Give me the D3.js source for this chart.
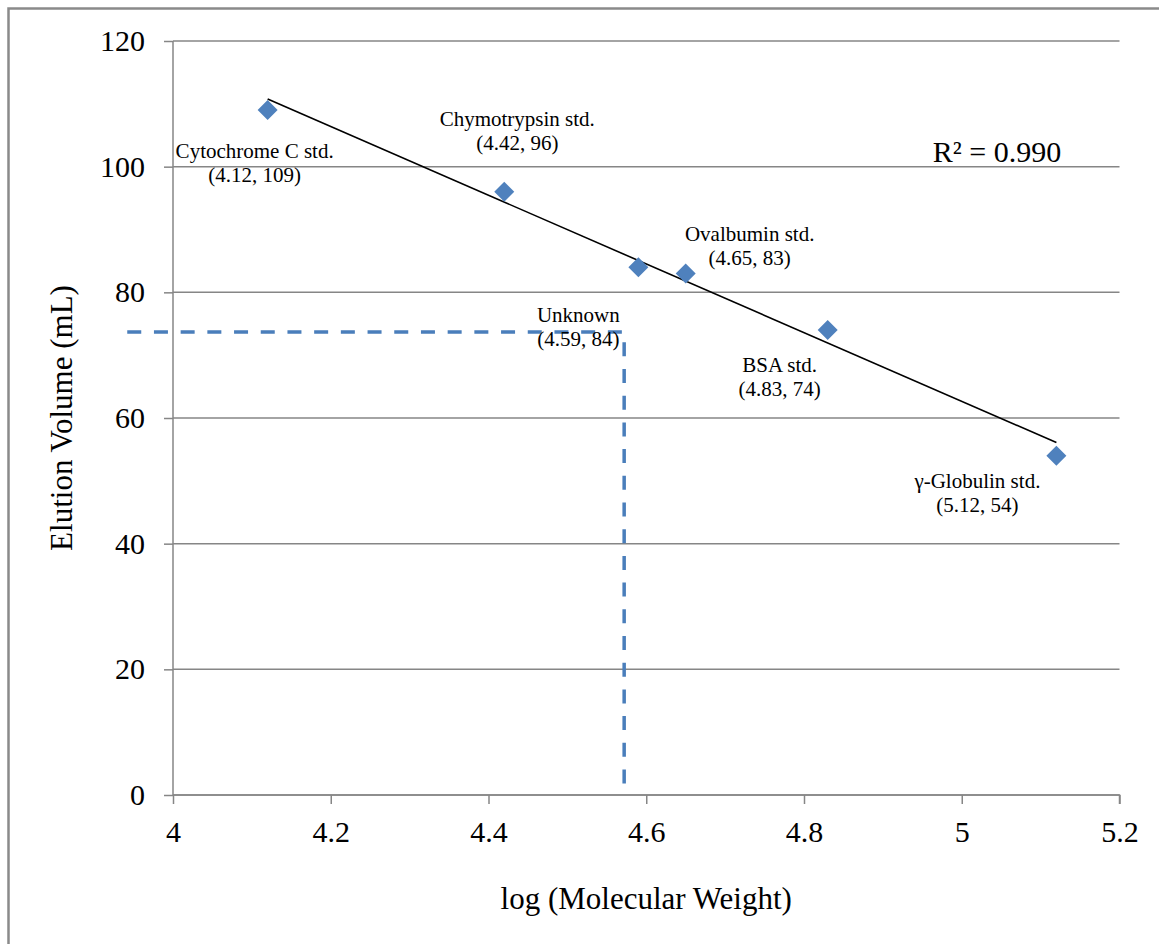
<!DOCTYPE html>
<html>
<head>
<meta charset="utf-8">
<script src="https://cdn.jsdelivr.net/npm/d3@7"></script>
<style>
  body { margin: 0; background: #fff; }
  svg text { font-family: "Liberation Serif", "Times New Roman", serif; fill: #000; }
  .grid line { stroke: #868686; stroke-width: 1.5; }
  .axisGray path, .axisGray line { stroke: #868686; stroke-width: 1.5; }
</style>
</head>
<body>
<div class="chart"></div>
<script>
// data
var names = ["Cytochrome C std.", "Chymotrypsin std.", "Unknown", "Ovalbumin std.", "BSA std.", "\u03b3-Globulin std."];
var logMW = [4.12, 4.42, 4.59, 4.65, 4.83, 5.12];
var elution = [109, 96, 84, 83, 74, 54];

// dashed guide for the unknown sample
var guideX = [3.942, 4.572, 4.572];
var guideY = [73.7, 73.7, 1.3];

var xTicks = [4, 4.2, 4.4, 4.6, 4.8, 5, 5.2];
var yTicks = [0, 20, 40, 60, 80, 100, 120];
var r2Text = "R\u00b2 = 0.990";

// label offsets in px from each point (layout only)
var labelOffsets = [[-13, 48], [13, -66], [-60, 55], [64, -32], [-48, 42], [-79, 32]];

var points = logMW.map(function(x, i) { return {x: x, y: elution[i], name: names[i]}; });
var guide = guideX.map(function(x, i) { return {x: x, y: guideY[i]}; });

var W = 1159, H = 944;
var margin = {top: 41, right: 40, bottom: 149, left: 173}
  , width = 1119.5 - margin.left
  , height = 795 - margin.top;

var xScale = d3.scaleLinear().domain([4, 5.2]).range([0, width]);
var yScale = d3.scaleLinear().domain([0, 120]).range([height, 0]);

var svg0 = d3.select(".chart").append("svg")
    .attr("width", W)
    .attr("height", H);

// outer chart border
svg0.append("rect")
    .attr("x", 8.5).attr("y", 8.5)
    .attr("width", W + 10).attr("height", H + 10)
    .attr("fill", "none")
    .attr("stroke", "#8a8a8a")
    .attr("stroke-width", 2.5);

var svg = svg0.append("g")
    .attr("transform", "translate(" + margin.left + "," + margin.top + ")");

// horizontal gridlines
svg.append("g")
    .attr("class", "grid")
    .selectAll("line")
    .data(yTicks)
  .enter().append("line")
    .attr("x1", 0).attr("x2", width)
    .attr("y1", function(d) { return yScale(d); })
    .attr("y2", function(d) { return yScale(d); });

// y axis
var yAxis = svg.append("g")
    .attr("class", "axisGray")
    .call(d3.axisLeft(yScale).tickValues(yTicks).tickSize(9).tickPadding(19).tickFormat(d3.format("d")));
yAxis.selectAll("text").style("font-size", "30px");

// x axis
var xAxis = svg.append("g")
    .attr("class", "axisGray")
    .attr("transform", "translate(0," + height + ")")
    .call(d3.axisBottom(xScale).tickValues(xTicks).tickSize(9).tickPadding(17).tickFormat(function(d) { return String(d); }));
xAxis.selectAll("text").style("font-size", "30px");
yAxis.select(".domain").attr("d", "M0," + height + "V0");
xAxis.select(".domain").attr("d", "M0,0H" + width + "V9");

// axis titles
svg0.append("text")
    .attr("transform", "translate(72," + (margin.top + height / 2) + ") rotate(-90)")
    .attr("text-anchor", "middle")
    .style("font-size", "31px")
    .text("Elution Volume (mL)");

svg0.append("text")
    .attr("x", margin.left + width / 2)
    .attr("y", 909)
    .attr("text-anchor", "middle")
    .style("font-size", "31px")
    .text("log (Molecular Weight)");

// dashed guide
var line = d3.line()
    .x(function(d) { return xScale(d.x); })
    .y(function(d) { return yScale(d.y); });

svg.append("path")
    .datum(guide)
    .attr("d", line)
    .attr("fill", "none")
    .attr("stroke", "#4a7ebb")
    .attr("stroke-width", 3.5)
    .attr("stroke-dasharray", "14,12.7");

// linear trendline (least squares over all points)
var mx = d3.mean(points, function(d) { return d.x; }),
    my = d3.mean(points, function(d) { return d.y; });
var sxy = d3.sum(points, function(d) { return (d.x - mx) * (d.y - my); }),
    sxx = d3.sum(points, function(d) { return (d.x - mx) * (d.x - mx); });
var slope = sxy / sxx, icept = my - slope * mx;
var xExt = d3.extent(points, function(d) { return d.x; });
var trend = xExt.map(function(x) { return {x: x, y: icept + slope * x}; });

svg.append("path")
    .datum(trend)
    .attr("d", line)
    .attr("fill", "none")
    .attr("stroke", "#000")
    .attr("stroke-width", 1.6);

// diamond markers
svg.selectAll(".dot")
    .data(points)
  .enter().append("path")
    .attr("class", "dot")
    .attr("d", d3.symbol(d3.symbolSquare, 200))
    .attr("transform", function(d) { return "translate(" + xScale(d.x) + "," + yScale(d.y) + ") rotate(45)"; })
    .attr("fill", "#4f81bd");

// data labels
var labels = svg.selectAll(".lbl")
    .data(points)
  .enter().append("text")
    .attr("class", "lbl")
    .attr("text-anchor", "middle")
    .style("font-size", "21px")
    .attr("transform", function(d, i) {
      return "translate(" + (xScale(d.x) + labelOffsets[i][0]) + "," + (yScale(d.y) + labelOffsets[i][1]) + ")";
    });
labels.append("tspan").attr("x", 0).attr("y", 0).text(function(d) { return d.name; });
labels.append("tspan").attr("x", 0).attr("y", 24).text(function(d) { return "(" + d.x.toFixed(2) + ", " + d.y + ")"; });

// R squared
svg0.append("text")
    .attr("x", 997)
    .attr("y", 162)
    .attr("text-anchor", "middle")
    .style("font-size", "30px")
    .text(r2Text);
</script>
</body>
</html>
